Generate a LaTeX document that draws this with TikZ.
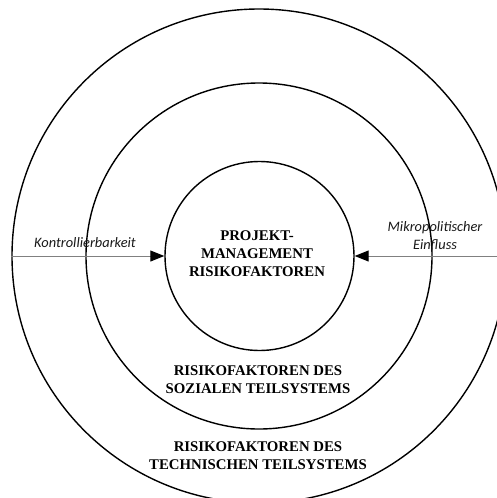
\documentclass[tikz,border=0pt]{standalone}
\usepackage{fontspec}
\setmainfont{Liberation Serif}
\newfontfamily\labelfont{Carlito}
\usetikzlibrary{arrows.meta}
\begin{document}
\begin{tikzpicture}[x=1pt,y=-1pt,
  ring/.style={circle,draw=black,line width=1.4pt,inner sep=0pt},
  captext/.style={font=\fontsize{14.8}{18}\selectfont\bfseries,align=center,text=black},
  side/.style={font=\fontsize{14.4}{18}\selectfont\labelfont\itshape,align=center,text=black!90},
  flow/.style={draw=black!50,line width=1pt,-{Triangle[length=14pt,width=11pt,fill=black,color=black]}}]
\useasboundingbox (0,0) rectangle (497,498);
\fill[white] (0,0) rectangle (497,498);
\begin{scope}
\clip (0,0) rectangle (497,498);
\node[ring,minimum size=494pt] (outer) at (259,256) {};
\node[ring,minimum size=346pt] (middle) at (259,256) {};
\end{scope}
\node[ring,minimum size=189pt] (inner) at (259.5,256) {};
\node[captext] (core) at (257,254) {PROJEKT-\\MANAGEMENT\\RISIKOFAKTOREN};
\node[captext] (social) at (258,380) {RISIKOFAKTOREN DES\\SOZIALEN TEILSYSTEMS};
\node[captext] (tech) at (258,456) {RISIKOFAKTOREN DES\\TECHNISCHEN TEILSYSTEMS};
\coordinate (rightend) at (497,256);
\draw[flow] (outer.west) -- (inner.west);
\draw[flow] (rightend) -- (inner.east);
\node[side] (kontr) at (85,243) {Kontrollierbarkeit};
\node[side] (mikro) at (435,236) {Mikropolitischer\\Einfluss};
\end{tikzpicture}
\end{document}
